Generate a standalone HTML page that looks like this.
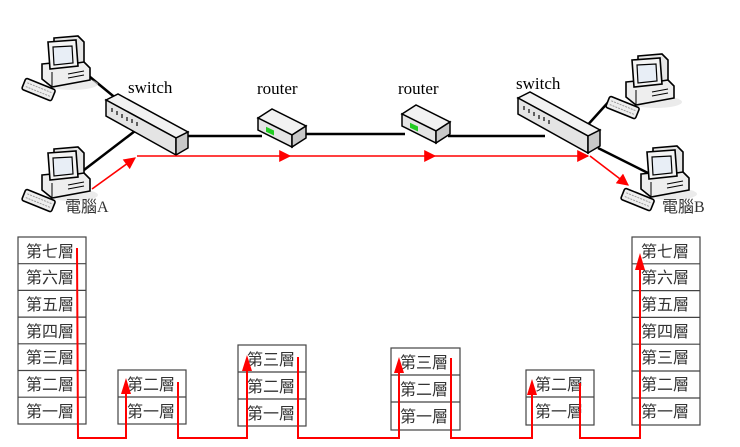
<!DOCTYPE html>
<html><head><meta charset="utf-8"><style>
html,body{margin:0;padding:0;background:#fff;}
svg{display:block;}
text{font-family:"Liberation Serif","Noto Serif CJK TC",serif;}
.l{font-family:"Liberation Serif","Noto Sans CJK TC",sans-serif;font-size:16px;fill:#333;}
</style></head><body>
<svg width="740" height="447" viewBox="0 0 740 447" xmlns="http://www.w3.org/2000/svg">
<defs>
<g id="pc">
  <ellipse cx="24" cy="46" rx="26" ry="6" fill="#ddd" opacity="0.6"/>
  <polygon points="-6,26 34,22 42,30 42,42 4,49 -6,41" fill="#eee" stroke="#000" stroke-width="1.6"/>
  <line x1="4" y1="34" x2="4" y2="49" stroke="#000"/>
  <line x1="20" y1="36" x2="36" y2="33" stroke="#000"/>
  <line x1="20" y1="40" x2="36" y2="37" stroke="#000"/>
  <polygon points="6,0 30,-2 36,4 36,24 10,28 6,24" fill="#e6e6e6" stroke="#000" stroke-width="1.6"/>
  <polygon points="0,4 28,2 30,28 2,31" fill="#f4f4f4" stroke="#000" stroke-width="1.6"/>
  <polygon points="5,9 24,8 25,25 6,27" fill="#e8eef6" stroke="#000" stroke-width="1.2"/>
  <g transform="translate(-22,40) rotate(22)">
    <rect x="0" y="0" width="32" height="12" rx="2" fill="#eee" stroke="#000" stroke-width="1.6"/>
    <line x1="3" y1="4" x2="29" y2="4" stroke="#999" stroke-dasharray="2 1"/>
    <line x1="3" y1="8" x2="29" y2="8" stroke="#999" stroke-dasharray="2 1"/>
  </g>
</g>
<g id="sw">
  <polygon points="0,0 12,-6 82,32 70,38" fill="#f2f2f2" stroke="#000" stroke-width="1.5"/>
  <polygon points="0,0 70,38 70,55 0,16" fill="#e4e4e4" stroke="#000" stroke-width="1.5"/>
  <polygon points="70,38 82,32 82,48 70,55" fill="#c8c8c8" stroke="#000" stroke-width="1.5"/>
  <g stroke="#333" stroke-width="1.5">
    <line x1="6" y1="8" x2="6" y2="12"/><line x1="11" y1="11" x2="11" y2="15"/><line x1="16" y1="14" x2="16" y2="18"/>
    <line x1="21" y1="17" x2="21" y2="21"/><line x1="26" y1="19" x2="26" y2="23"/><line x1="31" y1="22" x2="31" y2="26"/>
  </g>
</g>
<g id="rt">
  <polygon points="0,10 14,1 48,18 34,27" fill="#f2f2f2" stroke="#000" stroke-width="1.5"/>
  <polygon points="0,10 34,27 34,39 0,22" fill="#e4e4e4" stroke="#000" stroke-width="1.5"/>
  <polygon points="34,27 48,18 48,30 34,39" fill="#c8c8c8" stroke="#000" stroke-width="1.5"/>
  <rect x="8" y="15" width="8" height="5" fill="#2c2" transform="skewY(25)"/>
</g>
<marker id="ar" viewBox="0 0 10 10" refX="9" refY="5" markerWidth="13" markerHeight="12" markerUnits="userSpaceOnUse" orient="auto"><path d="M0,0 L10,5 L0,10z" fill="#f00"/></marker>
</defs>

<g stroke="#000" stroke-width="2.5" fill="none">
  <line x1="84" y1="72" x2="118" y2="100"/>
  <line x1="84" y1="170" x2="135" y2="131"/>
  <line x1="180" y1="136" x2="262" y2="136"/>
  <line x1="300" y1="134" x2="405" y2="134"/>
  <line x1="448" y1="136" x2="545" y2="136"/>
  <line x1="585" y1="128" x2="612" y2="98"/>
  <line x1="598" y1="148" x2="652" y2="175"/>
</g>

<use href="#pc" x="48" y="38"/>
<use href="#pc" x="48" y="149"/>
<use href="#pc" x="632" y="56"/>
<use href="#pc" x="647" y="148"/>

<use href="#sw" x="106" y="100"/>
<use href="#sw" x="518" y="98"/>
<use href="#rt" x="258" y="108"/>
<use href="#rt" x="402" y="104"/>

<text x="128" y="93" font-size="17" fill="#000">switch</text>
<text x="257" y="94" font-size="17" fill="#000">router</text>
<text x="398" y="94" font-size="17" fill="#000">router</text>
<text x="516" y="89" font-size="17" fill="#000">switch</text>
<text class="l" x="65" y="212">電腦A</text>
<text class="l" x="662" y="212">電腦B</text>

<g stroke="#f00" stroke-width="1.6" fill="none">
  <line x1="92" y1="189" x2="135" y2="158" marker-end="url(#ar)"/>
  <line x1="137" y1="156" x2="290" y2="156" marker-end="url(#ar)"/>
  <line x1="290" y1="156" x2="435" y2="156" marker-end="url(#ar)"/>
  <line x1="435" y1="156" x2="588" y2="156" marker-end="url(#ar)"/>
  <line x1="590" y1="156" x2="628" y2="185" marker-end="url(#ar)"/>
</g>

<g fill="#fff" stroke="#444" stroke-width="1.2">
  <rect x="18" y="237" width="68" height="187"/>
  <rect x="118" y="370" width="68" height="54"/>
  <rect x="238" y="345" width="68" height="81"/>
  <rect x="391" y="348" width="69" height="82"/>
  <rect x="526" y="370" width="68" height="55"/>
  <rect x="632" y="237" width="68" height="188"/>
</g>
<g stroke="#444" stroke-width="1.2">
  <line x1="18" y1="263.7" x2="86" y2="263.7"/><line x1="18" y1="290.4" x2="86" y2="290.4"/>
  <line x1="18" y1="317.1" x2="86" y2="317.1"/><line x1="18" y1="343.8" x2="86" y2="343.8"/>
  <line x1="18" y1="370.5" x2="86" y2="370.5"/><line x1="18" y1="397.2" x2="86" y2="397.2"/>
  <line x1="118" y1="397" x2="186" y2="397"/>
  <line x1="238" y1="372" x2="306" y2="372"/><line x1="238" y1="399" x2="306" y2="399"/>
  <line x1="391" y1="375" x2="460" y2="375"/><line x1="391" y1="402" x2="460" y2="402"/>
  <line x1="526" y1="397" x2="594" y2="397"/>
  <line x1="632" y1="263.8" x2="700" y2="263.8"/><line x1="632" y1="290.6" x2="700" y2="290.6"/>
  <line x1="632" y1="317.4" x2="700" y2="317.4"/><line x1="632" y1="344.2" x2="700" y2="344.2"/>
  <line x1="632" y1="371" x2="700" y2="371"/><line x1="632" y1="398" x2="700" y2="398"/>
</g>
<g>
  <text class="l" x="26" y="257">第七層</text>
  <text class="l" x="26" y="283">第六層</text>
  <text class="l" x="26" y="310">第五層</text>
  <text class="l" x="26" y="337">第四層</text>
  <text class="l" x="26" y="363">第三層</text>
  <text class="l" x="26" y="390">第二層</text>
  <text class="l" x="26" y="417">第一層</text>
  <text class="l" x="127" y="390">第二層</text>
  <text class="l" x="127" y="417">第一層</text>
  <text class="l" x="247" y="365">第三層</text>
  <text class="l" x="247" y="392">第二層</text>
  <text class="l" x="247" y="419">第一層</text>
  <text class="l" x="400" y="368">第三層</text>
  <text class="l" x="400" y="395">第二層</text>
  <text class="l" x="400" y="422">第一層</text>
  <text class="l" x="535" y="390">第二層</text>
  <text class="l" x="535" y="417">第一層</text>
  <text class="l" x="641" y="257">第七層</text>
  <text class="l" x="641" y="283">第六層</text>
  <text class="l" x="641" y="310">第五層</text>
  <text class="l" x="641" y="337">第四層</text>
  <text class="l" x="641" y="363">第三層</text>
  <text class="l" x="641" y="390">第二層</text>
  <text class="l" x="641" y="417">第一層</text>
</g>

<g stroke="#f00" stroke-width="2" fill="none">
  <polyline points="77,248 78,438 126,438 126,392"/>
  <polyline points="178,382 178,438 247,438 247,368"/>
  <polyline points="298,357 298,438 399,438 399,371"/>
  <polyline points="451,358 451,438 532,438 532,393"/>
  <polyline points="580,383 580,438 640,438 640,268"/>
</g>
<g fill="#f00">
  <polygon points="121,394 131,394 126,378"/>
  <polygon points="242,371 252,371 247,355"/>
  <polygon points="394,373 404,373 399,357"/>
  <polygon points="527,395 537,395 532,379"/>
  <polygon points="635,270 645,270 640,253"/>
</g>
</svg>
</body></html>
